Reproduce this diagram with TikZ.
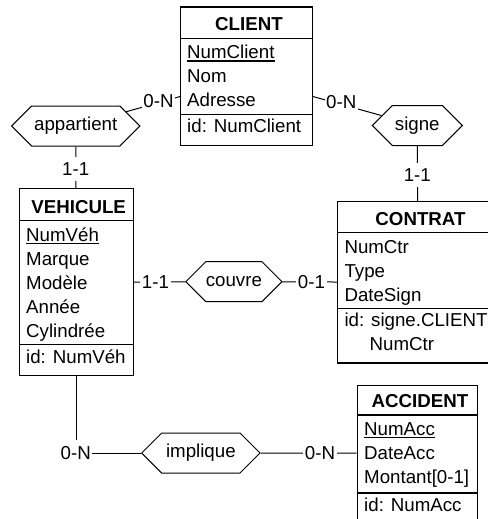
\documentclass[tikz,border=0pt]{standalone}
\usepackage{fontspec}
\setmainfont{Liberation Sans}
\usetikzlibrary{shapes.symbols}

\begin{document}
\begin{tikzpicture}[x=1pt, y=-1pt,
  font=\fontsize{18.7}{22}\selectfont,
  entity/.style={draw, line width=1.1pt, anchor=north west, inner sep=0pt},
  sep/.style={line width=1.1pt},
  title/.style={anchor=base, inner sep=0pt, font=\fontsize{18.7}{22}\selectfont\bfseries},
  attr/.style={anchor=base west, inner sep=0pt},
  keyline/.style={line width=1.6pt},
  rel/.style={draw, shape=signal, signal to=east and west, signal pointer angle=90,
              minimum height=40pt, inner sep=0pt, line width=1pt},
  conn/.style={line width=1pt},
  card/.style={fill=white, inner xsep=1.5pt, inner ysep=6pt},
]
\useasboundingbox (0,0) rectangle (487,519);

% relationship types
\node[rel, minimum width=128.3pt] (appartient) at (75.7,126)   {appartient};
\node[rel, minimum width=90pt]    (signe)      at (417.3,125.5) {signe};
\node[rel, minimum width=95.7pt]  (couvre)     at (233.85,281.7) {couvre};
\node[rel, minimum width=118.3pt] (implique)   at (200.85,453)  {implique};

% entity types: outer boxes
\node[entity, minimum width=132pt,   minimum height=138pt]   (client)   at (180,6.5)   {};
\node[entity, minimum width=114pt,   minimum height=186.8pt] (vehicule) at (18.7,188.3) {};
\node[entity, minimum width=160.6pt, minimum height=161.4pt] (contrat)  at (337,201)   {};
\node[entity, minimum width=120pt,   minimum height=150pt]   (accident) at (356.7,385) {};

% CLIENT
\draw[sep] (client.west |- 0,38.3) -- (client.east |- 0,38.3);
\draw[sep] (client.west |- 0,114.3) -- (client.east |- 0,114.3);
\node[title] (clientT) at (249,30.7) {CLIENT};
\node[attr] (clientK) at (187,58.8) {NumClient};
\node[attr] (clientA2) at (187,82.8) {Nom};
\node[attr] (clientA3) at (187,106.8) {Adresse};
\node[attr] (clientId) at (187,132.7) {id: NumClient};
\draw[keyline] ([yshift=-2pt]clientK.south west) -- ([yshift=-2pt]clientK.south east);

% VEHICULE
\draw[sep] (vehicule.west |- 0,220.7) -- (vehicule.east |- 0,220.7);
\draw[sep] (vehicule.west |- 0,344.5) -- (vehicule.east |- 0,344.5);
\node[title] (vehiculeT) at (78.7,213.3) {VEHICULE};
\node[attr] (vehiculeK) at (26,241) {NumVéh};
\node[attr] (vehiculeA2) at (26,265) {Marque};
\node[attr] (vehiculeA3) at (26,289) {Modèle};
\node[attr] (vehiculeA4) at (26,313) {Année};
\node[attr] (vehiculeA5) at (26,337) {Cylindrée};
\node[attr] (vehiculeId) at (26,363.3) {id: NumVéh};
\draw[keyline] ([yshift=-2pt]vehiculeK.south west) -- ([yshift=-2pt]vehiculeK.south east);

% CONTRAT
\draw[sep] (contrat.west |- 0,232.7) -- (contrat.east |- 0,232.7);
\draw[sep] (contrat.west |- 0,308.5) -- (contrat.east |- 0,308.5);
\node[title] (contratT) at (420.5,225.2) {CONTRAT};
\node[attr] (contratA1) at (344.3,253) {NumCtr};
\node[attr] (contratA2) at (344.3,277) {Type};
\node[attr] (contratA3) at (344.3,301) {DateSign};
\node[attr] (contratId) at (344.3,326.5) {id: signe.CLIENT};
\node[attr] (contratId2) at (369.5,350.7) {NumCtr};

% ACCIDENT
\draw[sep] (accident.west |- 0,415) -- (accident.east |- 0,415);
\draw[sep] (accident.west |- 0,493) -- (accident.east |- 0,493);
\node[title] (accidentT) at (420,407.5) {ACCIDENT};
\node[attr] (accidentK) at (364,435.3) {NumAcc};
\node[attr] (accidentA2) at (364,459.3) {DateAcc};
\node[attr] (accidentA3) at (364,483.5) {Montant[0-1]};
\node[attr] (accidentId) at (364,511.5) {id: NumAcc};
\draw[keyline] ([yshift=-2pt]accidentK.south west) -- ([yshift=-2pt]accidentK.south east);

% attachment points on CLIENT
\coordinate (cliW) at ([yshift=-20.5pt]client.west);
\coordinate (cliE) at ([yshift=-20.5pt]client.east);

% roles
\draw[conn] (appartient) -- (cliW);
\draw[conn] (cliE) -- (signe);
\draw[conn] (signe) -- (contrat);
\draw[conn] (appartient) -- (vehicule);
\draw[conn] (vehicule) -- (couvre);
\draw[conn] (couvre) -- (contrat);
\draw[conn] (vehicule) |- (implique);
\draw[conn] (implique) -- (accident.west |- implique);

% cardinalities
\node[card] (cardAppCli) at (158.5,101)   {0-N};
\node[card] (cardSigCli) at (341.3,102)   {0-N};
\node[card] (cardAppVeh) at (75.7,169)    {1-1};
\node[card] (cardSigCon) at (417.3,175)   {1-1};
\node[card] (cardCouVeh) at (155.5,281.7) {1-1};
\node[card] (cardCouCon) at (311.5,281.7) {0-1};
\node[card] (cardImpVeh) at (75.7,453)    {0-N};
\node[card] (cardImpAcc) at (320,453)     {0-N};
\end{tikzpicture}
\end{document}
